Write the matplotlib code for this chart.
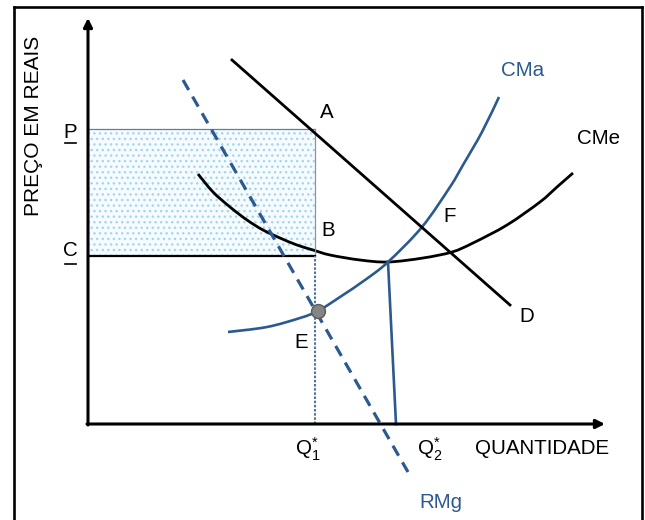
import matplotlib.pyplot as plt
import matplotlib.lines as mlines
from matplotlib.path import Path
from matplotlib.patches import PathPatch

plt.rcParams['font.family'] = ['Liberation Sans', 'DejaVu Sans']
plt.rcParams['mathtext.fontset'] = 'custom'
plt.rcParams['mathtext.rm'] = 'Liberation Sans'

# precos e quantidades do grafico (unidades arbitrarias)
P = 29.5
C = 16.8
Q1 = 22.7

# demanda D
demanda_q = [14.4, 42.2]
demanda_p = [36.4, 11.9]

# receita marginal RMg
rmg_q = [9.5, 32.0]
rmg_p = [34.4, -4.8]

# custo medio CMe
cme_q = [11.0, 12.5, 14.2, 15.9, 17.5, 19.2, 20.9, 22.5, 24.2, 27.2, 30.0,
         33.5, 36.4, 38.5, 41.9, 45.2, 46.9, 48.5]
cme_p = [25.0, 23.2, 21.7, 20.4, 19.4, 18.6, 17.9, 17.4, 16.9, 16.4, 16.2,
         16.6, 17.2, 18.1, 19.9, 22.2, 23.7, 25.1]

# custo marginal CMa
cma_q = [14.0, 17.9, 21.2, 23.0, 25.2, 27.7, 30.0, 33.4, 36.2, 37.5, 39.4, 41.1]
cma_p = [9.2, 9.7, 10.6, 11.3, 12.7, 14.4, 16.2, 19.7, 23.7, 25.9, 29.2, 32.7]

# ponto E e linha de Q*2
e_q, e_p = 23.0, 11.3
q2_q = [30.0, 30.8]
q2_p = [16.2, 0.0]

eixo_x_max = 51.7
eixo_y_max = 40.6

azul = '#2c5a8e'


def curva_suave(ax, xs, ys, **kw):
    # passa uma curva bezier (catmull-rom) pelos pontos
    pts = list(zip(xs, ys))
    verts = [pts[0]]
    codes = [Path.MOVETO]
    for i in range(len(pts) - 1):
        p0 = pts[i - 1] if i > 0 else pts[i]
        p1 = pts[i]
        p2 = pts[i + 1]
        p3 = pts[i + 2] if i + 2 < len(pts) else pts[i + 1]
        c1 = (p1[0] + (p2[0] - p0[0]) / 6, p1[1] + (p2[1] - p0[1]) / 6)
        c2 = (p2[0] - (p3[0] - p1[0]) / 6, p2[1] - (p3[1] - p1[1]) / 6)
        verts += [c1, c2, p2]
        codes += [Path.CURVE4] * 3
    ax.add_patch(PathPatch(Path(verts, codes), facecolor='none', **kw))


fig = plt.figure(figsize=(6.45, 5.2), dpi=100)
ax = fig.add_axes([0, 0, 1, 1])
ax.set_xlim(-8.8, 55.7)
ax.set_ylim(-9.6, 42.4)
ax.axis('off')

# moldura
for xs, ys in [([14/645, 14/645], [0, 1 - 7/520]),
               ([14/645, 641.5/645], [1 - 7/520, 1 - 7/520]),
               ([641.5/645, 641.5/645], [1 - 7/520, 0])]:
    fig.add_artist(mlines.Line2D(xs, ys, color='black', lw=1.9,
                                 transform=fig.transFigure, solid_capstyle='projecting'))

# area de lucro
ax.fill_between([0, Q1], [C, C], [P, P], facecolor='#f5fbfe', hatch='...',
                edgecolor='#a6d6ef', linewidth=0)
ax.plot([0, Q1], [P, P], color='#5d7fa6', lw=0.9)
ax.plot([Q1, Q1], [C, P], color='#8a95a3', lw=0.9)
ax.plot([0, Q1], [C, C], color='black', lw=1.6)
ax.plot([Q1, Q1], [0, C], color='#4f74a0', lw=1.5, linestyle=(0, (1.2, 0.8)))

# curvas
ax.plot(demanda_q, demanda_p, color='black', lw=2.0)
curva_suave(ax, cme_q, cme_p, edgecolor='black', lw=2.0)
curva_suave(ax, cma_q, cma_p, edgecolor=azul, lw=1.9)
ax.plot(rmg_q, rmg_p, color=azul, lw=2.3, linestyle=(0, (3.6, 2.4)))
ax.plot(q2_q, q2_p, color=azul, lw=1.9)
ax.plot([e_q], [e_p], 'o', markersize=10, color='#858585', markeredgecolor='#5a5a5a',
        markeredgewidth=1, zorder=5)

# eixos
flecha = dict(arrowstyle='-|>', lw=2.2, color='black', mutation_scale=13,
              shrinkA=0, shrinkB=0)
ax.annotate('', xy=(0, eixo_y_max), xytext=(0, -0.1), arrowprops=flecha)
ax.annotate('', xy=(eixo_x_max, 0), xytext=(-0.1, 0), arrowprops=flecha)

# textos
fs = 14.8
ax.text(-5.4, 29.8, 'PREÇO EM REAIS', rotation=90, ha='center', va='center', fontsize=15)
ax.text(45.4, -2.5, 'QUANTIDADE', ha='center', va='center', fontsize=14.8)
ax.text(-1.8, P - 0.3, 'P', ha='center', va='center', fontsize=fs)
ax.plot([-2.3, -1.2], [P - 1.4, P - 1.4], color='black', lw=1.2)
ax.text(-1.8, C + 0.6, 'C', ha='center', va='center', fontsize=fs)
ax.plot([-2.3, -1.2], [C - 0.8, C - 0.8], color='black', lw=1.2)
ax.text(23.9, 31.2, 'A', ha='center', va='center', fontsize=fs)
ax.text(24.0, 19.3, 'B', ha='center', va='center', fontsize=fs)
ax.text(36.2, 20.8, 'F', ha='center', va='center', fontsize=fs)
ax.text(43.9, 10.8, 'D', ha='center', va='center', fontsize=fs)
ax.text(21.3, 8.1, 'E', ha='center', va='center', fontsize=fs)
ax.text(51.1, 28.5, 'CMe', ha='center', va='center', fontsize=fs)
ax.text(43.5, 35.4, 'CMa', ha='center', va='center', fontsize=fs, color=azul)
ax.text(35.3, -7.8, 'RMg', ha='center', va='center', fontsize=fs, color=azul)
ax.text(22.0, -2.5, r'$\mathregular{Q^{*}_{1}}$', ha='center', va='center', fontsize=fs)
ax.text(34.2, -2.5, r'$\mathregular{Q^{*}_{2}}$', ha='center', va='center', fontsize=fs)

fig.savefig('out.png', dpi=100)
